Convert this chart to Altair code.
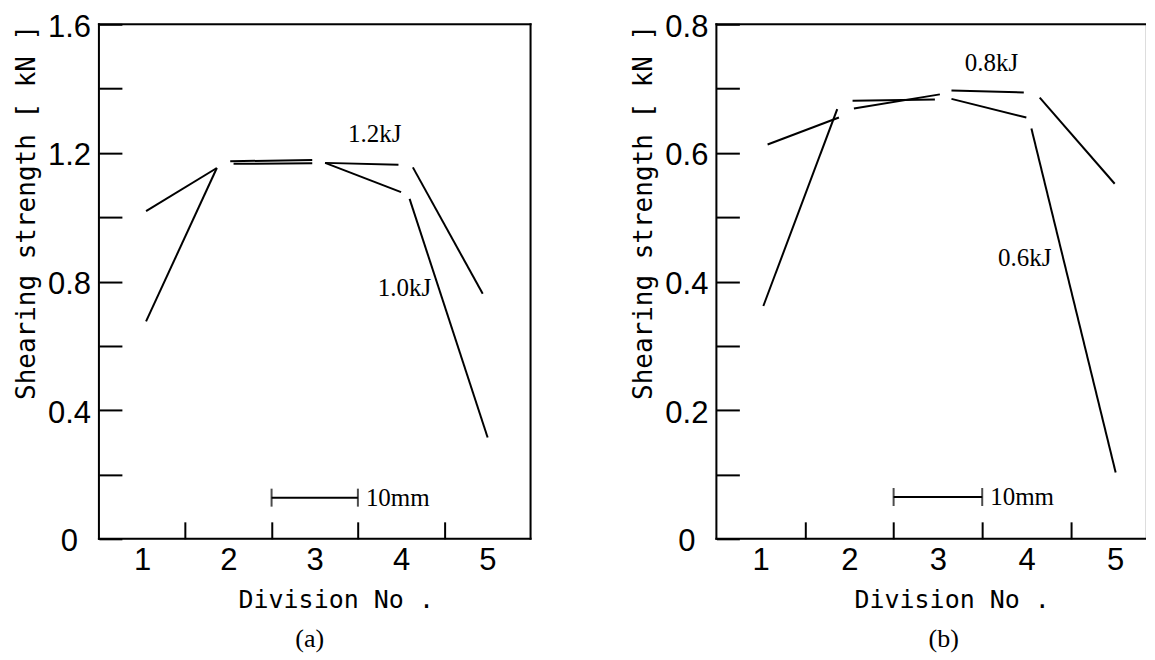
import altair as alt
import pandas as pd

# ---------------- data ----------------
# Panel (a): each series is drawn as separate broken segments (start -> end)
a_series = ["1.2kJ"] * 4 + ["1.0kJ"] * 4
a_x1 = [1.046, 2.021, 3.12, 4.137, 1.046, 2.06, 3.12, 4.099]
a_y1 = [1.019, 1.174, 1.169, 1.155, 0.676, 1.166, 1.169, 1.057]
a_x2 = [1.866, 2.971, 3.97, 4.946, 1.866, 2.971, 4.0, 5.003]
a_y2 = [1.153, 1.178, 1.163, 0.762, 1.153, 1.168, 1.078, 0.315]

a_lab_text = ["1.2kJ", "1.0kJ"]
a_lab_x = [3.695, 4.04]
a_lab_y = [1.258, 0.779]

# Panel (b)
b_series = ["0.8kJ"] * 4 + ["0.6kJ"] * 4
b_x1 = [1.078, 2.037, 3.153, 4.149, 1.03, 2.052, 3.153, 4.055]
b_y1 = [0.613, 0.681, 0.697, 0.686, 0.362, 0.669, 0.684, 0.638]
b_x2 = [1.883, 2.966, 3.969, 4.995, 1.864, 3.022, 3.998, 5.006]
b_y2 = [0.655, 0.683, 0.694, 0.552, 0.668, 0.691, 0.655, 0.103]

b_lab_text = ["0.8kJ", "0.6kJ"]
b_lab_x = [3.604, 3.98]
b_lab_y = [0.739, 0.437]

# 10 mm scale bar (in division units) and its level
bar_x = [2.5, 3.5]
a_bar_y = 0.128
b_bar_y = 0.065
bar_text = "10mm"

x_tick_values = [1, 1.5, 2, 2.5, 3, 3.5, 4, 4.5, 5]
a_y_ticks = [round(0.2 * i, 1) for i in range(9)]
b_y_ticks = [round(0.1 * i, 1) for i in range(9)]

y_title = "Shearing strength [ kN ]"
x_title = "Division No ."

# ---------------- styling ----------------
LABEL_FONT = "Liberation Sans"
TITLE_FONT = "DejaVu Sans Mono"
SERIF = "Liberation Serif"


def panel(series, x1, y1, x2, y2, lab_text, lab_x, lab_y, bar_y, W, H,
          xdom, ydom, yticks, ylabel_step, caption, caption_dx, right_frame):
    seg = pd.DataFrame({"s": series, "x1": x1, "y1": y1, "x2": x2, "y2": y2})
    labs = pd.DataFrame({"t": lab_text, "x": lab_x, "y": lab_y})
    bar = pd.DataFrame({"x": [bar_x[0]], "x2": [bar_x[1]], "y": [bar_y]})
    caps = pd.DataFrame({"x": bar_x, "y": [bar_y, bar_y]})
    bartxt = pd.DataFrame({"x": [bar_x[1]], "y": [bar_y], "t": [bar_text]})

    xs = alt.Scale(domain=xdom, nice=False, zero=False)
    ys = alt.Scale(domain=ydom, nice=False, zero=False)

    x_axis = alt.Axis(
        values=x_tick_values,
        labelExpr="datum.value % 1 == 0 ? format(datum.value, 'd') : ''",
        tickOpacity={"condition": {"test": "datum.value % 1 == 0", "value": 0}, "value": 1},
        tickSize=17, offset=-17, tickWidth=2, tickColor="black",
        domain=False, grid=False,
        labelFont=LABEL_FONT, labelFontSize=31, labelColor="black",
        labelPadding=7, labelOverlap=False, labelFlush=False,
        title=x_title, titleFont=TITLE_FONT, titleFontSize=25,
        titleFontWeight="normal", titleColor="black", titlePadding=12,
        titleX=W / 2 + 21, titleAlign="center",
    )
    y_expr = ("datum.value == 0 ? '0' : (round(datum.value*10) % " + str(ylabel_step)
              + " == 0 ? format(datum.value, '.1f') : '')")
    y_axis = alt.Axis(
        values=yticks,
        labelExpr=y_expr,
        tickSize=23, offset=-23, tickWidth=2, tickColor="black",
        domain=False, grid=False,
        labelFont=LABEL_FONT, labelFontSize=31, labelColor="black",
        labelAlign="center", labelPadding=30,
        labelOverlap=False, labelFlush=False, labelOffset=3,
        title=y_title, titleFont=TITLE_FONT, titleFontSize=26,
        titleFontWeight="normal", titleColor="black", titlePadding=8,
        titleAnchor="end",
    )

    lines = alt.Chart(seg).mark_rule(color="black", strokeWidth=2).encode(
        x=alt.X("x1:Q", scale=xs, axis=x_axis),
        y=alt.Y("y1:Q", scale=ys, axis=y_axis),
        x2="x2:Q", y2="y2:Q",
    )
    texts = alt.Chart(labs).mark_text(font=SERIF, fontSize=25, color="black",
                                      align="center", baseline="middle").encode(
        x="x:Q", y="y:Q", text="t:N")
    barl = alt.Chart(bar).mark_rule(color="black", strokeWidth=2).encode(
        x="x:Q", x2="x2:Q", y="y:Q")
    barcaps = alt.Chart(caps).mark_tick(color="black", orient="vertical",
                                        size=18, thickness=2).encode(x="x:Q", y="y:Q")
    bart = alt.Chart(bartxt).mark_text(font=SERIF, fontSize=25, color="black",
                                       align="left", baseline="middle", dx=8).encode(
        x="x:Q", y="y:Q", text="t:N")

    one = pd.DataFrame({"k": [0]})
    fr = dict(color="black", strokeWidth=2, strokeCap="square")
    frames = [
        alt.Chart(one).mark_rule(**fr).encode(x=alt.value(0), x2=alt.value(W), y=alt.value(0)),
        alt.Chart(one).mark_rule(**fr).encode(x=alt.value(0), x2=alt.value(W), y=alt.value(H)),
        alt.Chart(one).mark_rule(**fr).encode(x=alt.value(0), y=alt.value(0), y2=alt.value(H)),
    ]
    if right_frame:
        frames.append(alt.Chart(one).mark_rule(**fr).encode(
            x=alt.value(W), y=alt.value(0), y2=alt.value(H)))

    return alt.layer(lines, texts, barl, barcaps, bart, *frames).properties(
        width=W, height=H,
        title=alt.TitleParams(caption, orient="bottom", anchor="middle", font=SERIF,
                              fontSize=26, fontWeight="normal", color="black",
                              offset=13, dx=caption_dx),
    )


pa = panel(a_series, a_x1, a_y1, a_x2, a_y2, a_lab_text, a_lab_x, a_lab_y, a_bar_y,
           432, 515, [0.5, 5.5], [0, 1.6], a_y_ticks, 4, "(a)", -5, True)
pb = panel(b_series, b_x1, b_y1, b_x2, b_y2, b_lab_text, b_lab_x, b_lab_y, b_bar_y,
           429, 515, [0.5, 5.337], [0, 0.8], b_y_ticks, 2, "(b)", 13, False)

chart = alt.hconcat(pa, pb, spacing=186, bounds="flush").properties(
    padding={"left": 4, "top": 2, "right": 0, "bottom": 0}
).configure_view(stroke=None).configure(background="white")

chart.save("out.html", embed_options={"renderer": "svg", "actions": False})
